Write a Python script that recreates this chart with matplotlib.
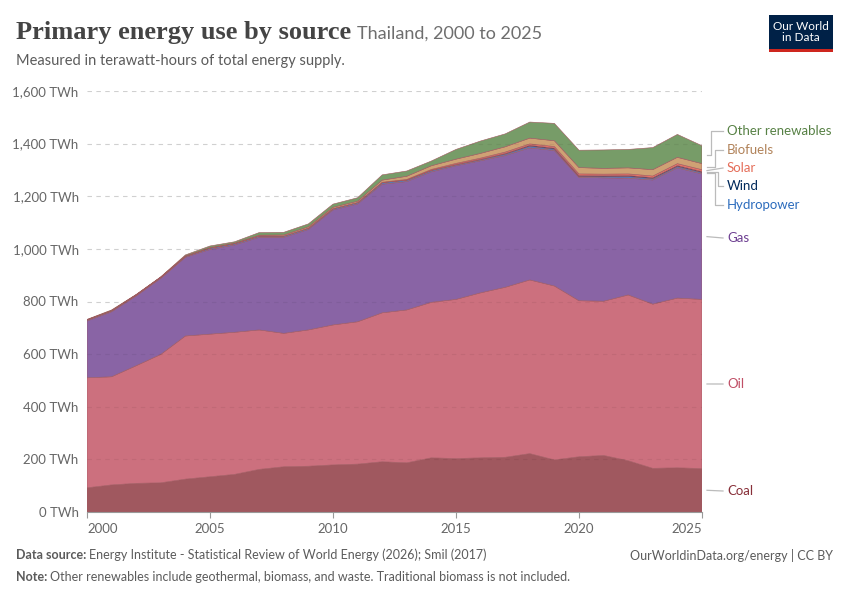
import numpy as np
import matplotlib
matplotlib.use("Agg")
import matplotlib.pyplot as plt
from matplotlib.lines import Line2D
from matplotlib.patches import Rectangle

plt.rcParams['font.family'] = ['Lato', 'DejaVu Sans']

years = list(range(2000, 2026))

# TWh
coal = [92, 103, 109, 111, 125, 134, 143, 162, 172, 174, 179, 182, 191,
        187, 206, 203, 206, 208, 222, 198, 210, 215, 195, 166, 168, 165]
oil_top = [510, 514, 556, 599, 669, 676, 683, 692, 679, 692, 711, 723, 757,
           768, 797, 808, 833, 854, 882, 859, 803, 801, 825, 790, 813, 808]
gas_top = [726, 761, 821, 888, 968, 998, 1015, 1044, 1044, 1074, 1148, 1171, 1246,
           1256, 1293, 1316, 1335, 1355, 1384, 1374, 1272, 1270, 1269, 1262, 1308, 1285]
oil = [t - c for t, c in zip(oil_top, coal)]
gas = [g - o for g, o in zip(gas_top, oil_top)]
hydro = [4, 4, 4, 4, 4, 5, 5, 5, 5, 5, 5, 5, 6,
         5, 5, 4, 4, 5, 6, 5, 3, 4, 6, 5, 5, 5]
wind = [0, 0, 0, 0, 0, 0, 0, 0, 0, 0, 0, 0, 0.3,
        1, 1, 1, 2, 3, 4, 4, 4, 4, 4, 4, 4, 4]
solar = [0, 0, 0, 0, 0, 0, 0, 0, 0, 0, 0.1, 0.3, 1,
         2, 3, 4, 4, 5, 5, 6, 6, 6, 6, 6, 7, 7]
biofuels = [0, 0, 0, 0, 1, 2, 2, 3, 4, 5, 5, 5, 8,
            12, 14, 16, 18, 20, 22, 22, 24, 22, 23, 24, 24, 23]
other = [2, 3, 2, 2, 4, 6, 5, 10, 10, 11, 12, 13, 20,
         20, 18, 37, 47, 49, 61, 66, 66, 70, 70, 84, 87, 68]

names = ["Coal", "Oil", "Gas", "Hydropower", "Wind", "Solar", "Biofuels", "Other renewables"]
series = [coal, oil, gas, hydro, wind, solar, biofuels, other]
fills = ["#a0585f", "#cc707e", "#8964a5", "#4a7fc4", "#12326b", "#ec7366", "#cfa174", "#779c68"]
label_colors = ["#883039", "#c04f66", "#6d3e91", "#2c6cbd", "#00295b", "#e56e5a", "#b1835a", "#578145"]
label_py = [491, 384, 238, 205, 186, 168, 150, 131]
elbow_px = [None, None, None, 715, 718, None, 715, 711]

W, H = 850, 600
fig = plt.figure(figsize=(8.5, 6.0), dpi=100)
ax = fig.add_axes([87 / W, 1 - 512 / H, (702 - 87) / W, (512 - 91) / H])

yt = list(range(0, 1601, 200))
# dashed grid under the areas, and a faint copy on top of them
for v in yt[1:]:
    ax.axhline(v, linestyle=(0, (4, 4)), color="#dddddd", linewidth=0.8, zorder=0)
    ax.axhline(v, linestyle=(0, (4, 4)), color="#000000", alpha=0.06, linewidth=0.8, zorder=5)

ax.stackplot(years, *series, colors=fills, linewidth=0.4,
             edgecolors=fills, zorder=2)

ax.set_xlim(2000, 2025)
ax.set_ylim(0, 1600)
ax.set_yticks(yt)
ax.set_yticklabels([f"{v:,} TWh" for v in yt])
ax.set_xticks([2000, 2005, 2010, 2015, 2020, 2025])
ax.tick_params(axis='y', length=0, labelsize=9.5, labelcolor="#666666", pad=6)
ax.tick_params(axis='x', length=4, color="#999999", labelsize=9.5, labelcolor="#666666", pad=4)
xl = ax.get_xticklabels()
xl[0].set_ha('left')
xl[-1].set_ha('right')
for s in ['top', 'right', 'left']:
    ax.spines[s].set_visible(False)
ax.spines['bottom'].set_color("#999999")
ax.spines['bottom'].set_zorder(6)

# right-hand labels with connectors
inv = fig.transFigure.inverted()
cum = np.cumsum(np.array(series, dtype=float), axis=0)
bottoms = np.vstack([np.zeros(len(years)), cum[:-1]])
for i, name in enumerate(names):
    mid = (bottoms[i, -1] + cum[i, -1]) / 2
    y0 = inv.transform(ax.transData.transform((2025, mid)))[1]
    y1 = 1 - label_py[i] / H
    x0, x2 = 707 / W, 723 / W
    if elbow_px[i] is None:
        xs, ys = [x0, x2], [y0, y1]
    else:
        xe = elbow_px[i] / W
        xs, ys = [x0, xe, xe, x2], [y0, y0, y1, y1]
    fig.add_artist(Line2D(xs, ys, color="#bbbbbb", linewidth=0.9, transform=fig.transFigure))
    fig.text(727 / W, y1, name, color=label_colors[i], fontsize=9.5, va='center', ha='left')

# title block
t = fig.text(16 / W, 1 - 33 / H, "Primary energy use by source", fontsize=19,
             fontweight='bold', family=['Liberation Serif', 'DejaVu Serif'],
             color="#444444", va='center', ha='left')
fig.canvas.draw()
bb = t.get_window_extent()
fig.text(bb.x1 / W + 6 / W, 1 - 34 / H, "Thailand, 2000 to 2025", fontsize=13,
         color="#6e6e6e", va='center', ha='left')
fig.text(16 / W, 1 - 61 / H, "Measured in terawatt-hours of total energy supply.",
         fontsize=10.5, color="#5b5b5b", va='center', ha='left')

# logo
fig.add_artist(Rectangle((769 / W, 1 - 52 / H), 64 / W, 37 / H, facecolor="#002147",
                         edgecolor='none', transform=fig.transFigure))
fig.add_artist(Rectangle((769 / W, 1 - 52 / H), 64 / W, 3 / H, facecolor="#ce261e",
                         edgecolor='none', transform=fig.transFigure))
fig.text(801 / W, 1 - 32 / H, "Our World\nin Data", color="white", fontsize=8.5,
         ha='center', va='center', linespacing=1.05)

# footer
s1 = fig.text(16 / W, 1 - 555 / H, "Data source:", fontsize=9, fontweight='bold',
              color="#5b5b5b", va='center', ha='left')
n1 = fig.text(16 / W, 1 - 577 / H, "Note:", fontsize=9, fontweight='bold',
              color="#5b5b5b", va='center', ha='left')
fig.canvas.draw()
e1 = s1.get_window_extent()
e2 = n1.get_window_extent()
fig.text(e1.x1 / W + 3 / W, 1 - 555 / H,
         "Energy Institute - Statistical Review of World Energy (2026); Smil (2017)",
         fontsize=9, color="#5b5b5b", va='center', ha='left')
fig.text(e2.x1 / W + 3 / W, 1 - 577 / H,
         "Other renewables include geothermal, biomass, and waste. Traditional biomass is not included.",
         fontsize=9, color="#5b5b5b", va='center', ha='left')
fig.text(833 / W, 1 - 555 / H, "OurWorldinData.org/energy | CC BY", fontsize=9,
         color="#5b5b5b", va='center', ha='right')

fig.savefig("out.png", dpi=100)
